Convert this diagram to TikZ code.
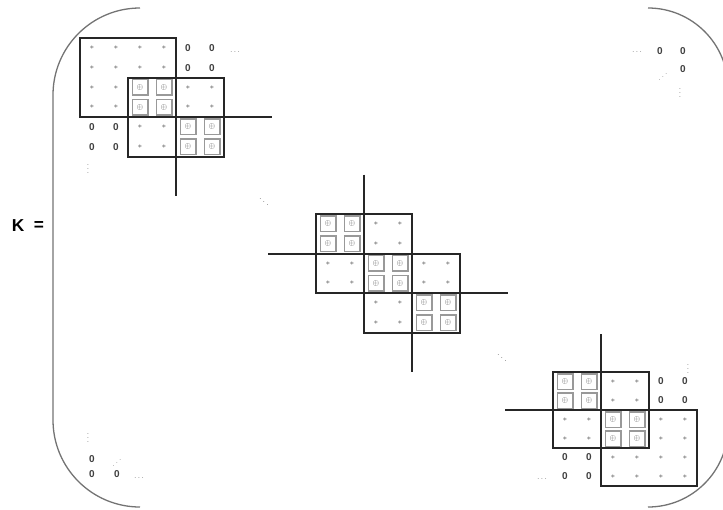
\documentclass[tikz,border=0pt]{standalone}
\usepackage{fontspec}
\setsansfont{Liberation Sans}
\usepackage{amsmath}
\usepackage{amssymb}
\usepackage{graphicx}
\usetikzlibrary{calc,positioning}
\tikzset{
    blk/.style = {draw=black!85, line width=2pt},
    brace/.style = {draw=black!55, line width=1.3pt},
    enta/.style = {inner sep=0pt, font=\footnotesize, text=black!70, node contents={$\ast$}},
    ento/.style = {draw=black!40, line width=1.5pt, minimum size=15.5pt,
        inner sep=0pt, font=\footnotesize, text=black!65, node contents={$\oplus$}},
    entz/.style = {inner sep=0pt, font=\sffamily\bfseries, text=black!75, node contents={0}},
    dts/.style = {inner sep=0pt, font=\footnotesize, text=black!75},
    lbl/.style = {font=\sffamily\bfseries\LARGE, inner sep=0pt}
}
\def\crossarms{%
    ++(-4,0) -- ++(8,0) ++(-4,-4) -- ++(0,8)
}
\newcommand\matrow[3]{%
    \foreach \t [count=\c from #2] in {#3}
        \node[ent\t, name=\pfx-#1-\c, at={(\c+.5,#1+.5)}];
}

\begin{document}
\begin{tikzpicture}[x=1pt, y=-1pt]
    \useasboundingbox (0,0) rectangle (723,509);
    \node[lbl] (K) at (18,226) {K};
    \node[lbl, right of=K, node distance=21pt] (eq) {=};
    \draw[brace, rounded corners=87pt] (140,8) -- (53,8) -- (53,507) -- (140,507);
    \draw[brace, rounded corners=80pt] (648,8) -- (728,8) -- (728,507) -- (650,507);
    \begin{scope}[shift={(80,38)}, x=24pt, y=-19.75pt]
        \def\pfx{tl}
        \matrow{0}{0}{a,a,a,a,z,z}
        \matrow{1}{0}{a,a,a,a,z,z}
        \matrow{2}{0}{a,a,o,o,a,a}
        \matrow{3}{0}{a,a,o,o,a,a}
        \matrow{4}{0}{z,z,a,a,o,o}
        \matrow{5}{0}{z,z,a,a,o,o}
        \draw[blk] (0,0) rectangle (4,4) (2,2) rectangle (6,6);
        \draw[blk] (4,4) \crossarms;
    \end{scope}
    \begin{scope}[shift={(316,214)}, x=24pt, y=-19.75pt]
        \def\pfx{md}
        \matrow{0}{0}{o,o,a,a}
        \matrow{1}{0}{o,o,a,a}
        \matrow{2}{0}{a,a,o,o,a,a}
        \matrow{3}{0}{a,a,o,o,a,a}
        \matrow{4}{2}{a,a,o,o}
        \matrow{5}{2}{a,a,o,o}
        \draw[blk] (0,0) rectangle (4,4) (2,2) rectangle (6,6);
        \draw[blk] (2,2) \crossarms (4,4) \crossarms;
    \end{scope}
    \begin{scope}[shift={(553,372)}, x=24pt, y=-19pt]
        \def\pfx{br}
        \matrow{0}{0}{o,o,a,a,z,z}
        \matrow{1}{0}{o,o,a,a,z,z}
        \matrow{2}{0}{a,a,o,o,a,a}
        \matrow{3}{0}{a,a,o,o,a,a}
        \matrow{4}{0}{z,z,a,a,a,a}
        \matrow{5}{0}{z,z,a,a,a,a}
        \draw[blk] (0,0) rectangle (4,4) (2,2) rectangle (6,6);
        \draw[blk] (2,2) \crossarms;
    \end{scope}
    \node[dts] (tlh) at (235,52) {$\ldots$};
    \node[dts] (tlv) at (88,166) {$\vdots$};
    \node[dts, font=\small] (dd1) at (264,199) {$\ddots$};
    \node[dts, font=\small] (dd2) at (502,355) {$\ddots$};
    \node[dts] (brv) at (688,366) {$\vdots$};
    \node[dts] (brh) at (542,479) {$\ldots$};
    \node[dts] (trh) at (637,52) {$\ldots$};
    \node[entz, name=tr1, at={(660,51)}];
    \node[entz, name=tr2, at={(683,51)}];
    \node[entz, name=tr3, at={(683,69)}];
    \node[dts, font=\scriptsize] (tri) at (663,74) {\reflectbox{$\ddots$}};
    \node[dts] (trv) at (680,90) {$\vdots$};
    \node[dts] (blv) at (88,435) {$\vdots$};
    \node[entz, name=bl1, at={(92,459)}];
    \node[entz, name=bl2, at={(92,474)}];
    \node[entz, name=bl3, at={(117,474)}];
    \node[dts, font=\scriptsize] (bli) at (117,460) {\reflectbox{$\ddots$}};
    \node[dts] (blh) at (139,478) {$\ldots$};
\end{tikzpicture}
\end{document}
